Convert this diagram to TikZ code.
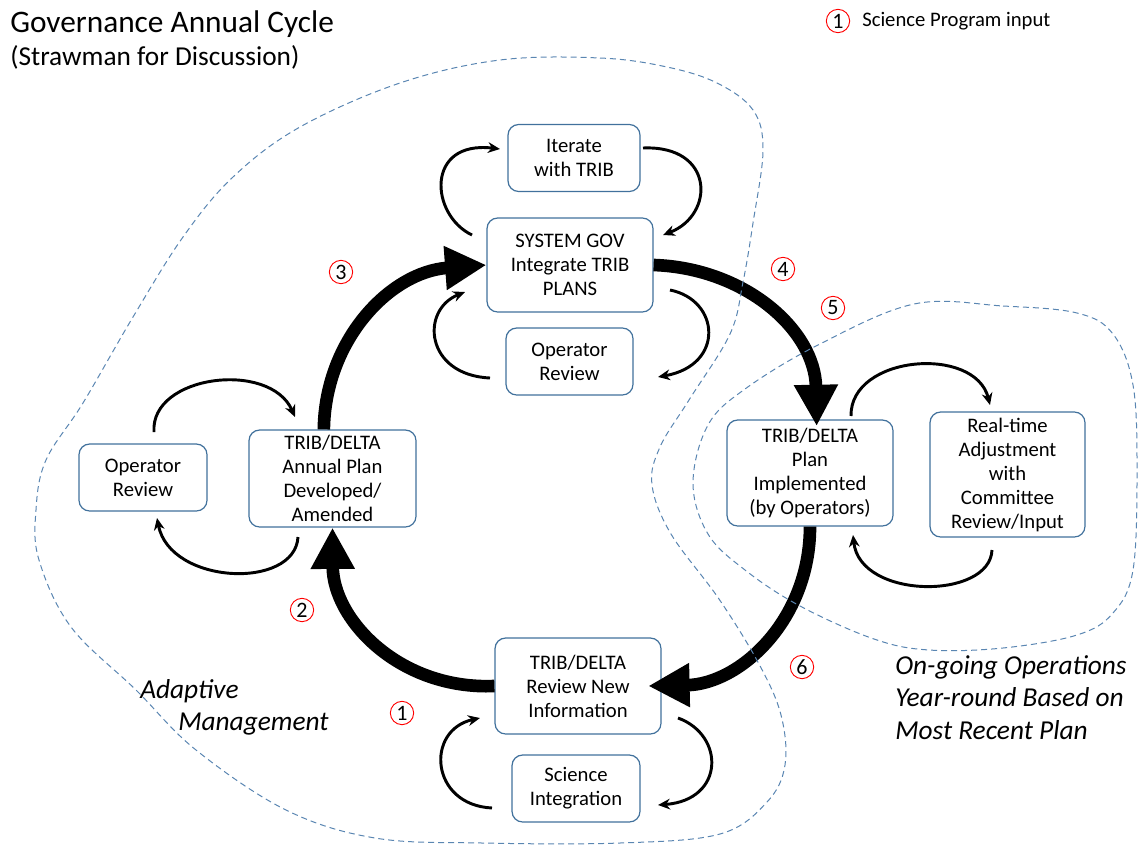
\documentclass[tikz,border=0pt]{standalone}
\usepackage{fontspec}
\setmainfont{Carlito}
\usetikzlibrary{arrows.meta}
\definecolor{boxblue}{HTML}{41719C}
\definecolor{dashblue}{HTML}{5A86B2}
\definecolor{numred}{HTML}{FF0000}
\begin{document}
\begin{tikzpicture}[x=0.75pt,y=-0.75pt,
  box/.style={draw=boxblue, line width=0.9pt, rounded corners=8pt, align=center, inner sep=0pt, font=\fontsize{15.5}{18}\selectfont, fill=white},
  bigarrow/.style={line width=9.5pt, -{Triangle[length=31pt,width=31pt]}},
  looparrow/.style={line width=2.2pt, -{Stealth[length=9pt,width=8pt]}},
  num/.style={circle, draw=numred, line width=0.7pt, inner sep=0pt, minimum size=17.5pt, font=\fontsize{16.5}{16.5}\selectfont},
  region/.style={draw=dashblue, line width=0.75pt, dash pattern=on 4.5pt off 3pt},
  lbl/.style={font=\fontsize{20.5}{22}\selectfont\itshape, anchor=base west, inner sep=0pt}
]
\useasboundingbox (0,0) rectangle (1138,846);

% titles
\node[font=\fontsize{23.5}{24}\selectfont, anchor=base west, inner sep=0pt] (t1) at (10,32) {Governance Annual Cycle};
\node[font=\fontsize{20.5}{22}\selectfont, anchor=base west, inner sep=0pt] (t2) at (10,65) {(Strawman for Discussion)};

% legend
\node[num] (leg) at (838,21) {1};
\node[anchor=west, inner sep=0pt, font=\fontsize{15.5}{18}\selectfont] (legt) at (862,21) {Science Program input};

% boxes
\node[box, minimum width=99pt, minimum height=50.25pt] (iter) at (574,158) {Iterate\\with TRIB};
\node[box, minimum width=124.5pt, minimum height=70.5pt] (sys) at (570,265) {SYSTEM GOV\\Integrate TRIB\\PLANS};
\node[box, minimum width=95.25pt, minimum height=50.25pt] (optop) at (569.5,361.5) {Operator\\Review};
\node[box, minimum width=96pt, minimum height=50.25pt] (opleft) at (143,477.5) {Operator\\Review};
\node[box, minimum width=125.25pt, minimum height=72.75pt] (plan) at (332.5,478.5) {TRIB/DELTA\\Annual Plan\\Developed/\\Amended};
\node[box, minimum width=124.5pt, minimum height=79.5pt] (impl) at (810,473) {TRIB/DELTA\\Plan\\Implemented\\(by Operators)};
\node[box, minimum width=116.25pt, minimum height=93.75pt] (rt) at (1007.5,474.5) {Real-time\\Adjustment\\with\\Committee\\Review/Input};
\node[box, minimum width=124.5pt, minimum height=72pt] (rev) at (578,686) {TRIB/DELTA\\Review New\\Information};
\node[box, minimum width=96pt, minimum height=50.25pt] (sci) at (576,788.5) {Science\\Integration};

% thick cycle arrows
\draw[bigarrow] (plan.100) .. controls (325,340) and (390,272) .. (sys.west);
\draw[bigarrow] (sys.east) .. controls (745,268) and (815,330) .. ([xshift=5pt,yshift=-5pt]impl.north);
\draw[bigarrow] (impl.south) .. controls (810,620) and (740,684) .. ([xshift=-10pt]rev.east);
\draw[bigarrow] (rev.west) .. controls (400,690) and (333,620) .. (plan.south);

% loop end points
\coordinate (a1) at (472,235); \coordinate (a2) at (500,149);
\coordinate (b1) at (643,148); \coordinate (b2) at (663,235);
\coordinate (c1) at (490,378); \coordinate (c2) at (465,292);
\coordinate (d1) at (670,290); \coordinate (d2) at (658,377);
\coordinate (e1) at (154,432); \coordinate (e2) at (295,417);
\coordinate (f1) at (298,537); \coordinate (f2) at (157,518);
\coordinate (g1) at (851,416); \coordinate (g2) at (990,405);
\coordinate (h1) at (992,550); \coordinate (h2) at (853,535);
\coordinate (k1) at (492,808); \coordinate (k2) at (480,718);
\coordinate (m1) at (678,718); \coordinate (m2) at (658,805);

% thin loop arrows
\draw[looparrow] (a1) .. controls (430,215) and (425,140) .. (a2);
\draw[looparrow] (b1) .. controls (715,145) and (715,215) .. (b2);
\draw[looparrow] (c1) .. controls (425,375) and (420,310) .. (c2);
\draw[looparrow] (d1) .. controls (720,300) and (725,365) .. (d2);
\draw[looparrow] (e1) .. controls (150,375) and (270,360) .. (e2);
\draw[looparrow] (f1) .. controls (295,590) and (170,585) .. (f2);
\draw[looparrow] (g1) .. controls (850,355) and (975,345) .. (g2);
\draw[looparrow] (h1) .. controls (990,600) and (860,600) .. (h2);
\draw[looparrow] (k1) .. controls (430,805) and (425,730) .. (k2);
\draw[looparrow] (m1) .. controls (725,735) and (725,800) .. (m2);

% dashed regions
\draw[region] plot[smooth cycle, tension=0.6] coordinates {
 (500,60) (600,58) (667,67) (717,83) (753,110) (763,150) (753,223) (743,282)
 (730,334) (689,400) (660,447) (652,485) (671,534) (719,599) (759,664)
 (781,715) (785,765) (767,802) (720,834) (620,843) (482,843) (375,838)
 (286,810) (196,750) (136,690) (71,627) (39,560) (36,510) (46,460)
 (83,403) (133,317) (183,237) (233,177) (300,127) (400,83)};
\draw[region] plot[smooth cycle, tension=0.6] coordinates {
 (914,304) (1003,306) (1077,313) (1113,334) (1133,385) (1137,470) (1133,570)
 (1113,613) (1077,635) (1003,648) (929,650) (874,639) (800,606) (745,570)
 (708,534) (693,483) (708,425) (745,389) (818,345)};

% circled numbers
\node[num] (n3) at (341,272) {3};
\node[num] (n4) at (783,269) {4};
\node[num] (n5) at (833,308) {5};
\node[num] (n2) at (302,610) {2};
\node[num] (n6) at (802,667) {6};
\node[num] (n1) at (402,713) {1};

% italic labels
\node[lbl] (am1) at (140,698) {Adaptive};
\node[lbl] (am2) at (178,730) {Management};
\node[lbl] (og1) at (895,674) {On-going Operations};
\node[lbl] (og2) at (895,706) {Year-round Based on};
\node[lbl] (og3) at (895,739) {Most Recent Plan};
\end{tikzpicture}
\end{document}
